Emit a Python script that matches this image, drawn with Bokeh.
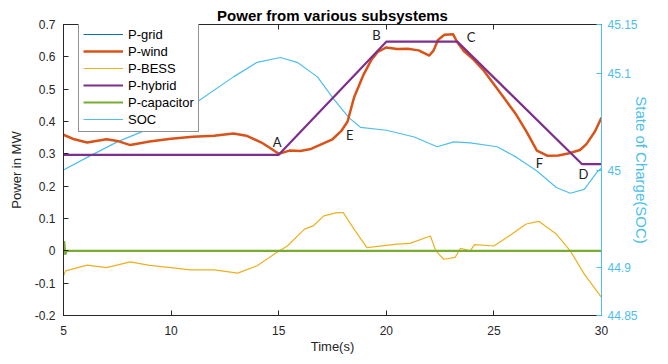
from bokeh.plotting import figure
from bokeh.models import (Range1d, LinearAxis, FixedTicker, NumeralTickFormatter,
                          Legend, LegendItem, ColumnDataSource, CustomJSTickFormatter)
from bokeh.core.properties import value
from bokeh.embed import file_html
from bokeh.resources import INLINE

# ---------------- data ----------------
grid_t = [5.0, 30.0]
grid_p = [0.0, 0.0]

wind_t = [5.0, 5.5, 6.1, 7.0, 7.5, 8.1, 9.0, 10.0, 11.0, 12.0, 12.9, 13.5, 14.2, 14.6,
          15.0, 15.5, 16.0, 16.5, 17.0, 17.5, 17.9, 18.2, 18.5, 18.95, 19.3, 19.6, 20.0,
          20.5, 21.0, 21.5, 22.0, 22.2, 22.4, 22.7, 23.1, 23.3, 23.6, 24.0, 24.5, 25.0,
          25.5, 26.0, 26.5, 27.0, 27.5, 28.0, 28.5, 29.0, 29.3, 29.7, 30.0]
wind_p = [0.359, 0.345, 0.335, 0.345, 0.340, 0.327, 0.338, 0.347, 0.353, 0.356, 0.363, 0.356,
          0.335, 0.318, 0.300, 0.310, 0.309, 0.315, 0.330, 0.345, 0.370, 0.400, 0.474, 0.546,
          0.590, 0.615, 0.629, 0.624, 0.625, 0.620, 0.604, 0.620, 0.652, 0.668, 0.670, 0.645,
          0.618, 0.595, 0.560, 0.515, 0.470, 0.425, 0.370, 0.310, 0.294, 0.295, 0.302, 0.312,
          0.330, 0.370, 0.412]

bess_t = [5.0, 5.1, 6.1, 7.0, 8.1, 9.0, 10.0, 10.9, 12.0, 13.1, 14.0, 14.8, 15.4, 16.2, 16.6,
          17.1, 17.7, 18.0, 18.5, 19.1, 19.4, 20.5, 21.1, 22.05, 22.3, 22.67, 23.2, 23.45,
          23.9, 24.1, 25.0, 25.6, 26.5, 27.1, 27.9, 28.55, 29.2, 30.0]
bess_p = [-0.077, -0.062, -0.044, -0.052, -0.034, -0.045, -0.052, -0.059, -0.059, -0.069,
          -0.046, -0.010, 0.015, 0.067, 0.077, 0.108, 0.118, 0.118, 0.067, 0.010, 0.012, 0.021,
          0.023, 0.046, 0.000, -0.026, -0.020, 0.008, 0.000, 0.019, 0.015, 0.041, 0.083, 0.091,
          0.052, 0.000, -0.072, -0.144]

hybrid_t = [5.0, 15.0, 20.0, 23.3, 29.1, 30.0]
hybrid_p = [0.297, 0.297, 0.647, 0.647, 0.268, 0.268]

cap_t = [5.0, 5.03, 5.08, 5.15, 30.0]
cap_p = [0.0, 0.03, -0.012, 0.0, 0.0]

soc_t = [5.0, 6.1, 7.5, 8.6, 10.0, 11.2, 12.9, 14.0, 15.08, 15.86, 16.8, 17.56, 18.26, 18.8,
         20.0, 21.3, 22.36, 23.14, 23.9, 25.15, 26.06, 27.0, 27.9, 28.55, 29.2, 29.8, 30.0]
soc_v = [45.000, 45.013, 45.029, 45.039, 45.056, 45.070, 45.096, 45.111, 45.116, 45.111,
         45.096, 45.073, 45.054, 45.044, 45.041, 45.034, 45.024, 45.029, 45.028, 45.024,
         45.013, 44.999, 44.982, 44.976, 44.980, 44.998, 45.002]

point_names = ["A", "B", "C", "D", "E", "F"]
point_t = [14.93, 19.54, 23.94, 29.16, 18.30, 27.11]
point_p = [0.337, 0.667, 0.660, 0.239, 0.358, 0.271]

x_ticks = [5, 10, 15, 20, 25, 30]
y_ticks = [-0.2, -0.1, 0.0, 0.1, 0.2, 0.3, 0.4, 0.5, 0.6, 0.7]
soc_ticks = [44.85, 44.9, 45.0, 45.1, 45.15]

# ---------------- figure ----------------
FONT = "Liberation Sans"
AXC = "#262626"
SOCC = "#4DBEEE"

p = figure(width=668, height=364, output_backend="svg", toolbar_location=None,
           x_range=Range1d(5, 30), y_range=Range1d(-0.2, 0.7),
           min_border_left=63, min_border_right=67, min_border_top=24, min_border_bottom=49,
           background_fill_color="white", border_fill_color="white")
p.extra_y_ranges = {"soc": Range1d(44.85, 45.15)}
p.grid.visible = False
p.outline_line_color = AXC
p.outline_line_width = 1

p.title.text = "Power from various subsystems"
p.title.align = "center"
p.title.text_font = FONT
p.title.text_font_size = "15px"
p.title.text_font_style = "bold"
p.title.text_color = "black"
p.title.standoff = 2

def style_axis(ax, color):
    ax.axis_line_color = color
    ax.major_tick_line_color = color
    ax.minor_tick_line_color = None
    ax.major_tick_in = 5
    ax.major_tick_out = 0
    ax.major_label_text_color = color
    ax.major_label_text_font = FONT
    ax.major_label_text_font_size = "12px"
    ax.axis_label_text_color = color
    ax.axis_label_text_font = FONT
    ax.axis_label_text_font_size = "13px"
    ax.axis_label_text_font_style = "normal"

xa = p.xaxis[0]
style_axis(xa, AXC)
xa.ticker = FixedTicker(ticks=x_ticks)
xa.axis_label = "Time(s)"
xa.major_label_standoff = 10
xa.axis_label_standoff = 1

ya = p.yaxis[0]
style_axis(ya, AXC)
ya.ticker = FixedTicker(ticks=y_ticks)
ya.formatter = NumeralTickFormatter(format="0.[0]")
ya.axis_label = "Power in MW"
ya.major_label_standoff = 8
ya.axis_label_standoff = 8

top = LinearAxis(ticker=FixedTicker(ticks=x_ticks),
                 formatter=CustomJSTickFormatter(code="return ''"))
style_axis(top, AXC)
top.major_label_standoff = 0
p.add_layout(top, "above")

ra = LinearAxis(y_range_name="soc", ticker=FixedTicker(ticks=soc_ticks),
                formatter=NumeralTickFormatter(format="0.[00]"),
                axis_label="State of Charge(SOC)")
style_axis(ra, SOCC)
ra.axis_label_text_font_size = "15px"
ra.major_label_standoff = 6
ra.axis_label_standoff = -8
p.add_layout(ra, "right")

# ---------------- lines ----------------
r_soc = p.line(soc_t, soc_v, y_range_name="soc", line_color=SOCC, line_width=1.2)
r_grid = p.line(grid_t, grid_p, line_color="#0072BD", line_width=1.2)
r_wind = p.line(wind_t, wind_p, line_color="#D95319", line_width=2.5, line_join="round")
r_bess = p.line(bess_t, bess_p, line_color="#EDB120", line_width=1.2)
r_hyb = p.line(hybrid_t, hybrid_p, line_color="#7E2F8E", line_width=2.2)
r_cap = p.line(cap_t, cap_p, line_color="#77AC30", line_width=2.2)

src = ColumnDataSource(dict(x=point_t, y=point_p, t=point_names))
p.text(x="x", y="y", text="t", source=src, text_align="center", text_baseline="middle",
       text_font=value("Lato"), text_font_size="13px", text_color="#222222")

legend = Legend(items=[
    LegendItem(label="P-grid", renderers=[r_grid]),
    LegendItem(label="P-wind", renderers=[r_wind]),
    LegendItem(label="P-BESS", renderers=[r_bess]),
    LegendItem(label="P-hybrid", renderers=[r_hyb]),
    LegendItem(label="P-capacitor", renderers=[r_cap]),
    LegendItem(label="SOC", renderers=[r_soc]),
], location=(15, 183))
legend.margin = 0
legend.padding = 4
legend.spacing = 1
legend.glyph_width = 40
legend.glyph_height = 16
legend.label_height = 16
legend.label_standoff = 5
legend.label_text_font = FONT
legend.label_text_font_size = "13px"
legend.label_text_color = "black"
legend.border_line_color = AXC
legend.border_line_width = 1
legend.background_fill_color = "white"
legend.background_fill_alpha = 1
p.add_layout(legend)

open("out.html", "w").write(file_html(p, INLINE))
